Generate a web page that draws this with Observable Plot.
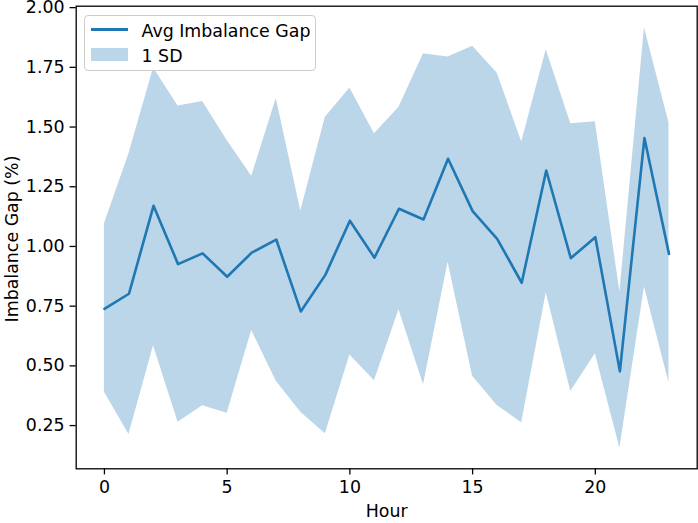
<!DOCTYPE html>
<html>
<head>
<meta charset="utf-8">
<script src="https://cdn.jsdelivr.net/npm/d3@7"></script>
<script src="https://cdn.jsdelivr.net/npm/@observablehq/plot@0.6"></script>
<style>
  html, body { margin: 0; padding: 0; background: #fff; }
  #wrap { position: relative; width: 698px; height: 523px; font-family: "DejaVu Sans", sans-serif; }
  #legend { position: absolute; left: 84.3px; top: 15px; width: 231.4px; height: 55.7px;
    border: 1.1px solid #cccccc; border-radius: 4px; background: rgba(255,255,255,0.8); box-sizing: border-box; }
  .abs { position: absolute; }
  .lbl { position: absolute; white-space: nowrap; font-size: 17.4px; line-height: 20px; color: #000; }
  #ylabel { position: absolute; left: 11.7px; top: 239px; transform: translate(-50%, -50%) rotate(-90deg); }
  svg { overflow: visible; }
</style>
</head>
<body>
<div id="wrap">
  <div id="chart"></div>
  <div id="legend"></div>
  <div class="abs" style="left:90.7px;top:28.2px;width:37px;height:2.6px;background:#1f77b4"></div>
  <div class="lbl" style="left:141.5px;top:20.7px">Avg Imbalance Gap</div>
  <div class="abs" style="left:90.7px;top:48.3px;width:37px;height:12.7px;background:#1f77b4;opacity:0.3"></div>
  <div class="lbl" style="left:141.5px;top:45.7px">1 SD</div>
  <div class="lbl" id="ylabel">Imbalance Gap (%)</div>
</div>
<script>
const hours = d3.range(0, 24);
const meanGap = [0.739, 0.802, 1.170, 0.926, 0.971, 0.873, 0.974, 1.029, 0.728, 0.881, 1.108, 0.953,
                 1.158, 1.113, 1.367, 1.148, 1.032, 0.848, 1.318, 0.951, 1.039, 0.477, 1.454, 0.969];
const upperGap = [1.095, 1.388, 1.747, 1.588, 1.607, 1.444, 1.294, 1.619, 1.148, 1.541, 1.663, 1.472,
                  1.583, 1.807, 1.793, 1.838, 1.726, 1.437, 1.824, 1.514, 1.522, 0.809, 1.916, 1.518];
const lowerGap = [0.390, 0.213, 0.584, 0.264, 0.333, 0.302, 0.648, 0.436, 0.306, 0.216, 0.545, 0.438,
                  0.735, 0.421, 0.934, 0.457, 0.334, 0.262, 0.806, 0.393, 0.551, 0.155, 0.830, 0.429];
const xTicks = [0, 5, 10, 15, 20];
const yTicks = [0.25, 0.5, 0.75, 1.0, 1.25, 1.5, 1.75, 2.0];

const data = hours.map((h, i) => ({hour: h, mean: meanGap[i], lo: lowerGap[i], hi: upperGap[i]}));
const blue = "#1f77b4";
const fs = 17.4;

const chart = Plot.plot({
  width: 698,
  height: 523,
  marginLeft: 75.7,
  marginRight: 1.3,
  marginTop: 5.7,
  marginBottom: 54.7,
  style: {fontFamily: "DejaVu Sans, sans-serif", fontSize: fs + "px", color: "#000", background: "#fff", overflow: "visible"},
  x: {domain: [-1.15, 24.15]},
  y: {domain: [0.069, 2.006]},
  marks: [
    Plot.areaY(data, {x: "hour", y1: "lo", y2: "hi", fill: blue, fillOpacity: 0.3}),
    Plot.lineY(data, {x: "hour", y: "mean", stroke: blue, strokeWidth: 2.6}),
    Plot.frame({stroke: "#000", strokeWidth: 1.3}),
    Plot.axisX({ticks: xTicks, tickSize: 6.1, tickPadding: 5.5, tickFormat: d => String(d), label: null, fontSize: fs, strokeWidth: 1.3}),
    Plot.axisY({ticks: yTicks, tickSize: 6.1, tickPadding: 5.5, tickFormat: d3.format(".2f"), label: null, fontSize: fs, strokeWidth: 1.3}),
    Plot.text(["Hour"], {frameAnchor: "bottom", dy: 43, lineAnchor: "middle", fontSize: fs, fill: "#000"})
  ]
});
document.getElementById("chart").appendChild(chart);
</script>
</body>
</html>
